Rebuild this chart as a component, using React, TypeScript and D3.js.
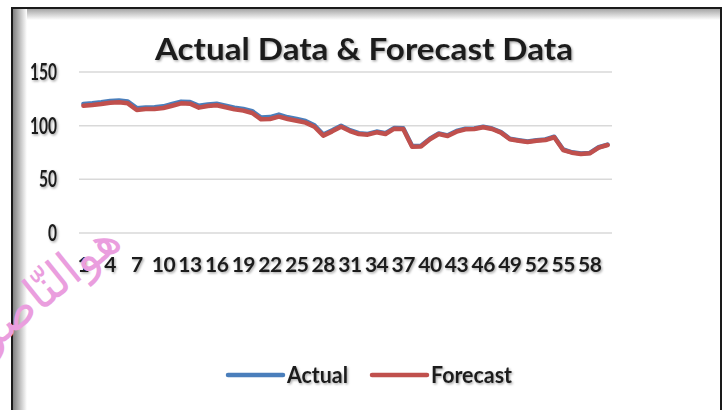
import React, { useEffect, useRef } from 'react';
import * as d3 from 'd3';

// 60 periods, labelled every 3rd on the axis
const periods = d3.range(1, 61).map(String);
const yTicks = [0, 50, 100, 150];

const actual = [120.3, 121.0, 121.9, 123.0, 123.4, 122.5, 116.3, 117.0, 117.1, 118.0,
    120.2, 122.4, 122.1, 118.5, 119.8, 120.5, 118.7, 116.8, 115.6, 113.5,
    107.6, 108.0, 110.3, 107.8, 106.2, 104.3, 100.4, 91.8, 95.7, 99.9,
    95.8, 93.0, 92.3, 94.5, 93.0, 97.9, 97.5, 81.0, 81.2, 87.9,
    92.8, 91.0, 95.0, 97.2, 97.4, 99.1, 97.4, 94.0, 87.8, 86.5,
    85.3, 86.5, 87.1, 89.7, 77.8, 75.2, 74.0, 74.6, 79.9, 82.4];

const forecast = [118.6, 119.3, 120.2, 121.4, 121.8, 120.8, 114.6, 115.5, 115.5, 116.5,
    118.6, 120.8, 120.5, 116.8, 118.3, 119.0, 117.1, 115.2, 114.0, 111.8,
    105.9, 106.2, 108.4, 106.2, 104.6, 102.8, 99.0, 90.7, 94.7, 99.0,
    95.0, 92.2, 91.6, 93.8, 92.2, 97.2, 96.9, 80.4, 80.6, 87.3,
    92.2, 90.4, 94.4, 96.6, 96.9, 98.5, 96.9, 93.5, 87.3, 86.0,
    84.8, 86.0, 86.6, 89.2, 77.3, 74.8, 73.6, 74.2, 79.5, 82.0];

const series = [
    { name: 'Actual', values: actual, color: '#4a7ebb' },
    { name: 'Forecast', values: forecast, color: '#c0504d' }
];

const App = () => {
    const ref = useRef<SVGSVGElement>(null);

    useEffect(() => {
        const width = 727, height = 410;
        const svg = d3.select(ref.current);
        svg.selectAll('*').remove();
        const font = 'Lato, Calibri, sans-serif';

        const defs = svg.append('defs');
        const shadow = defs.append('filter').attr('id', 'txtShadow')
            .attr('x', '-10%').attr('y', '-20%').attr('width', '120%').attr('height', '150%');
        shadow.append('feDropShadow')
            .attr('dx', 1.2).attr('dy', 1.4).attr('stdDeviation', 1)
            .attr('flood-color', '#000').attr('flood-opacity', 0.35);

        const gl = defs.append('linearGradient').attr('id', 'leftShade');
        gl.append('stop').attr('offset', '0%').attr('stop-color', '#808080');
        gl.append('stop').attr('offset', '100%').attr('stop-color', '#fff');
        const gt = defs.append('linearGradient').attr('id', 'topShade')
            .attr('x1', 0).attr('y1', 0).attr('x2', 0).attr('y2', 1);
        gt.append('stop').attr('offset', '0%').attr('stop-color', '#a6a6a6');
        gt.append('stop').attr('offset', '100%').attr('stop-color', '#fff');

        svg.append('rect').attr('width', width).attr('height', height).attr('fill', '#fff');

        // frame with inner shading
        svg.append('rect').attr('x', 13).attr('y', 9).attr('width', 707).attr('height', 11)
            .attr('fill', 'url(#topShade)');
        svg.append('rect').attr('x', 13).attr('y', 9).attr('width', 14).attr('height', 405)
            .attr('fill', 'url(#leftShade)');
        svg.append('rect').attr('x', 12).attr('y', 8).attr('width', 709).attr('height', 420)
            .attr('fill', 'none').attr('stroke', '#1a1a1a').attr('stroke-width', 2);

        const x = d3.scaleBand().domain(periods).range([79, 612]);
        const cx = (d: string) => (x(d) ?? 0) + x.bandwidth() / 2;
        const y = d3.scaleLinear().domain([0, 150]).range([233, 72]);

        // gridlines
        svg.append('g')
            .selectAll('line')
            .data(yTicks)
            .join('line')
            .attr('x1', 79).attr('x2', 612)
            .attr('y1', d => y(d)).attr('y2', d => y(d))
            .attr('stroke', '#d9d9d9').attr('stroke-width', 1.5);

        const txt = svg.append('g')
            .attr('font-family', font).attr('font-weight', 'bold')
            .attr('fill', '#1f1f1f').attr('filter', 'url(#txtShadow)');

        // y labels
        txt.append('g')
            .selectAll('text')
            .data(yTicks)
            .join('text')
            .attr('x', 57)
            .attr('y', d => y(d) + 8)
            .attr('text-anchor', 'end')
            .attr('font-size', 22)
            .attr('textLength', d => String(d).length * 9)
            .attr('lengthAdjust', 'spacingAndGlyphs')
            .text(d => d);

        // x labels
        txt.append('g')
            .selectAll('text')
            .data(periods.filter((d, i) => i % 3 === 0))
            .join('text')
            .attr('x', d => cx(d))
            .attr('y', 272)
            .attr('text-anchor', 'middle')
            .attr('font-size', 21)
            .attr('letter-spacing', -0.5)
            .text(d => d);

        // title
        txt.append('text')
            .attr('x', 364).attr('y', 60)
            .attr('text-anchor', 'middle')
            .attr('font-size', 30)
            .attr('textLength', 418)
            .attr('lengthAdjust', 'spacingAndGlyphs')
            .text('Actual Data & Forecast Data');

        // watermark
        svg.append('text')
            .attr('transform', 'translate(56,300) rotate(-39)')
            .attr('text-anchor', 'middle')
            .attr('font-family', 'DejaVu Sans, sans-serif')
            .attr('font-size', 48)
            .attr('fill', '#ea9ede')
            .text('هوالنّاصر');

        // lines
        const line = d3.line<number>()
            .x((d, i) => cx(periods[i]))
            .y(d => y(d));

        svg.append('g')
            .selectAll('path')
            .data(series)
            .join('path')
            .attr('d', d => line(d.values))
            .attr('fill', 'none')
            .attr('stroke', d => d.color)
            .attr('stroke-width', 4.5)
            .attr('stroke-linejoin', 'round')
            .attr('stroke-linecap', 'round');

        // legend
        const legendX = [228, 372];
        const legendW = [61, 81];
        const legend = svg.append('g')
            .selectAll('g')
            .data(series)
            .join('g')
            .attr('transform', (d, i) => `translate(${legendX[i]},375)`);
        legend.append('line')
            .attr('x1', 0).attr('x2', 55)
            .attr('stroke', d => d.color).attr('stroke-width', 4.5)
            .attr('stroke-linecap', 'round');
        legend.append('text')
            .attr('x', 59).attr('y', 8)
            .attr('font-family', font).attr('font-weight', 'bold')
            .attr('font-size', 22)
            .attr('fill', '#1f1f1f').attr('filter', 'url(#txtShadow)')
            .attr('textLength', (d, i) => legendW[i])
            .attr('lengthAdjust', 'spacingAndGlyphs')
            .text(d => d.name);
    }, []);

    return (
        <svg ref={ref} width={727} height={410}
            style={{ position: 'absolute', left: 0, top: 0, display: 'block' }} />
    );
};

export default App;
